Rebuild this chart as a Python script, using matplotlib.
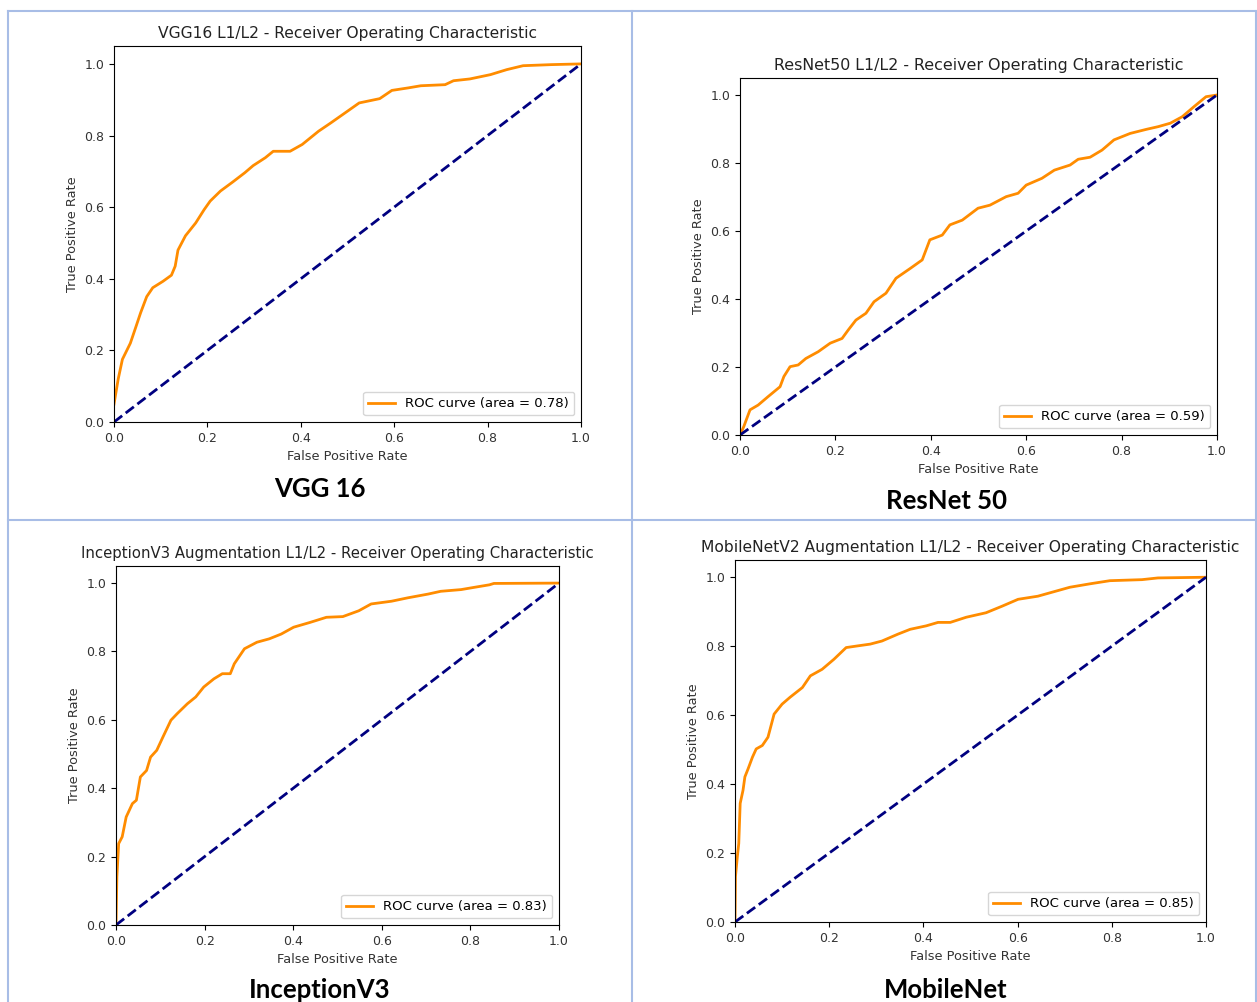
import matplotlib
matplotlib.use('Agg')
import matplotlib.pyplot as plt
from matplotlib.lines import Line2D

# VGG16
vgg_fpr = [0.0, 0.009, 0.018, 0.035, 0.048, 0.057, 0.07, 0.083, 0.105, 0.123, 0.131, 0.137,
           0.153, 0.175, 0.193, 0.206, 0.228, 0.254, 0.28, 0.298, 0.324, 0.341, 0.377, 0.403,
           0.438, 0.464, 0.5, 0.525, 0.569, 0.595, 0.63, 0.657, 0.709, 0.727, 0.762, 0.806,
           0.841, 0.876, 0.937, 1.0]
vgg_tpr = [0.05, 0.12, 0.175, 0.22, 0.27, 0.305, 0.35, 0.375, 0.393, 0.41, 0.435, 0.48,
           0.52, 0.556, 0.593, 0.617, 0.645, 0.67, 0.696, 0.716, 0.738, 0.756, 0.756, 0.775,
           0.812, 0.835, 0.868, 0.891, 0.903, 0.926, 0.933, 0.939, 0.942, 0.953, 0.958, 0.97,
           0.984, 0.995, 0.998, 1.0]

# ResNet50
res_fpr = [0.0, 0.008, 0.021, 0.038, 0.059, 0.084, 0.092, 0.105, 0.122, 0.138, 0.164, 0.189,
           0.214, 0.227, 0.243, 0.264, 0.281, 0.306, 0.327, 0.357, 0.382, 0.398, 0.424, 0.44,
           0.466, 0.499, 0.524, 0.558, 0.583, 0.6, 0.633, 0.659, 0.692, 0.709, 0.734, 0.759,
           0.784, 0.818, 0.852, 0.877, 0.902, 0.927, 0.952, 0.977, 1.0]
res_tpr = [0.0, 0.025, 0.074, 0.088, 0.113, 0.142, 0.172, 0.201, 0.206, 0.225, 0.245, 0.27,
           0.284, 0.309, 0.338, 0.358, 0.392, 0.417, 0.461, 0.49, 0.515, 0.574, 0.588, 0.618,
           0.632, 0.667, 0.676, 0.701, 0.711, 0.735, 0.755, 0.779, 0.794, 0.811, 0.817, 0.838,
           0.868, 0.887, 0.899, 0.907, 0.917, 0.936, 0.966, 0.995, 1.0]

# InceptionV3
inc_fpr = [0.0, 0.002, 0.006, 0.014, 0.023, 0.037, 0.046, 0.055, 0.069, 0.078, 0.092, 0.106,
           0.124, 0.138, 0.161, 0.18, 0.198, 0.221, 0.24, 0.258, 0.267, 0.29, 0.318, 0.346,
           0.373, 0.401, 0.438, 0.475, 0.512, 0.548, 0.576, 0.622, 0.659, 0.705, 0.733, 0.779,
           0.806, 0.843, 0.853, 1.0]
inc_tpr = [0.0, 0.141, 0.238, 0.258, 0.316, 0.355, 0.365, 0.433, 0.452, 0.491, 0.511, 0.55,
           0.599, 0.618, 0.647, 0.667, 0.696, 0.72, 0.735, 0.735, 0.764, 0.808, 0.827, 0.837,
           0.851, 0.871, 0.885, 0.9, 0.902, 0.919, 0.939, 0.947, 0.957, 0.968, 0.976, 0.981,
           0.987, 0.995, 0.999, 1.0]

# MobileNetV2
mob_fpr = [0.0, 0.001, 0.005, 0.008, 0.011, 0.017, 0.021, 0.028, 0.037, 0.045, 0.058, 0.07,
           0.083, 0.1, 0.117, 0.143, 0.16, 0.185, 0.21, 0.236, 0.261, 0.287, 0.312, 0.346,
           0.372, 0.406, 0.431, 0.457, 0.491, 0.533, 0.567, 0.601, 0.643, 0.677, 0.711, 0.754,
           0.796, 0.864, 0.898, 1.0]
mob_tpr = [0.0, 0.132, 0.19, 0.228, 0.344, 0.382, 0.421, 0.445, 0.478, 0.502, 0.512, 0.536,
           0.603, 0.632, 0.652, 0.68, 0.714, 0.733, 0.762, 0.796, 0.801, 0.806, 0.815, 0.835,
           0.849, 0.859, 0.869, 0.869, 0.884, 0.897, 0.916, 0.936, 0.945, 0.958, 0.971, 0.981,
           0.99, 0.993, 0.998, 1.0]

titles = ['VGG16 L1/L2 - Receiver Operating Characteristic',
          'ResNet50 L1/L2 - Receiver Operating Characteristic',
          'InceptionV3 Augmentation L1/L2 - Receiver Operating Characteristic',
          'MobileNetV2 Augmentation L1/L2 - Receiver Operating Characteristic']
captions = ['VGG 16', 'ResNet 50', 'InceptionV3', 'MobileNet']
areas = [0.78, 0.59, 0.83, 0.85]
curves = [(vgg_fpr, vgg_tpr), (res_fpr, res_tpr), (inc_fpr, inc_tpr), (mob_fpr, mob_tpr)]

W, H = 1257, 1002
fig = plt.figure(figsize=(W / 100, H / 100), dpi=100)

# axes boxes in pixels: left, right, bottom(y of 0.0), top
boxes = [(114, 581, 422, 46), (740, 1217, 435, 78), (116, 559, 925, 566), (735, 1206, 922, 560)]
caption_pos = [(320, 489), (946, 501), (320, 990), (946, 990)]
title_sizes = [11.2, 11.4, 10.7, 11.2]

for i in range(4):
    l, r, b, t = boxes[i]
    ax = fig.add_axes([l / W, (H - b) / H, (r - l) / W, (b - t) / H])
    fpr, tpr = curves[i]
    ax.plot(fpr, tpr, color='darkorange', lw=2, label=f'ROC curve (area = {areas[i]:.2f})')
    ax.plot([0, 1], [0, 1], color='navy', lw=2, linestyle='--')
    ax.set_xlim([0.0, 1.0])
    ax.set_ylim([0.0, 1.05])
    ax.set_xlabel('False Positive Rate', fontsize=9.3, color='#333333')
    ax.set_ylabel('True Positive Rate', fontsize=9.3, color='#333333')
    ax.set_title(titles[i], fontsize=title_sizes[i], color='#222222')
    ax.tick_params(labelsize=9, labelcolor='#333333')
    ax.legend(loc='lower right', fontsize=9.5)
    cx, cy = caption_pos[i]
    fig.text(cx / W, (H - cy) / H, captions[i], fontsize=18.5, fontweight='bold',
             family=['Lato', 'DejaVu Sans'], ha='center', va='center')

# cell borders
border = '#a8bde6'
for xs, ys in [([8, 8], [10.5, 1002]), ([632, 632], [10.5, 1002]), ([1256, 1256], [10.5, 1002]),
               ([8, 1256], [10.5, 10.5]), ([8, 1256], [519.5, 519.5])]:
    fig.add_artist(Line2D([x / W for x in xs], [(H - y) / H for y in ys],
                          color=border, lw=1.5, transform=fig.transFigure))

fig.savefig('out.png', dpi=100)
